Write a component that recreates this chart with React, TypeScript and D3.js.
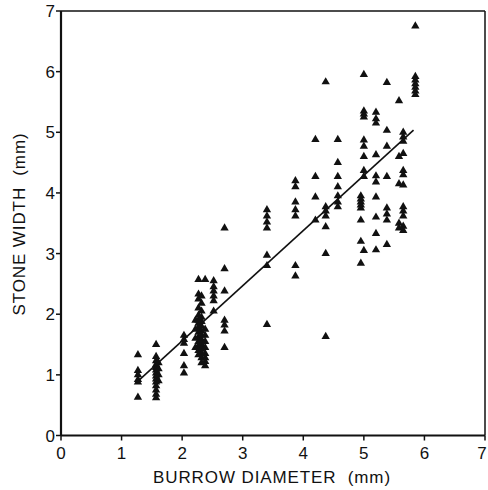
import React from "react";
import * as d3 from "d3";

const xTicks = [0, 1, 2, 3, 4, 5, 6, 7];
const yTicks = [0, 1, 2, 3, 4, 5, 6, 7];

// Burrow diameter (mm) columns with stone widths (mm)
const diameters = [1.27, 1.57, 1.61, 2.03, 2.22, 2.27, 2.32, 2.38, 2.52, 2.7, 3.4, 3.87, 4.2, 4.37, 4.57, 4.95, 5.0, 5.2, 5.38, 5.58, 5.65, 5.85];
const widths: number[][] = [
  [1.33, 1.07, 1.0, 0.92, 0.88, 0.63],
  [1.5, 1.3, 1.23, 1.17, 1.12, 1.08, 1.03, 0.98, 0.93, 0.88, 0.82, 0.75, 0.68, 0.62],
  [1.2, 1.1, 1.0, 0.9],
  [1.65, 1.58, 1.52, 1.35, 1.15, 1.03],
  [1.9, 1.75, 1.6, 1.45],
  [2.57, 2.33, 2.25, 2.1, 1.98, 1.9, 1.85, 1.78, 1.7, 1.62, 1.55, 1.48, 1.4, 1.33],
  [2.3, 2.18, 2.05, 1.95, 1.88, 1.8, 1.72, 1.65, 1.58, 1.5, 1.42, 1.35, 1.28, 1.2],
  [2.57, 1.75, 1.65, 1.55, 1.45, 1.35, 1.28, 1.22, 1.15],
  [2.55, 2.45, 2.38, 2.3, 2.22, 2.05],
  [3.42, 2.75, 2.38, 1.9, 1.82, 1.72, 1.45],
  [3.72, 3.62, 3.52, 3.42, 2.97, 2.8, 1.83],
  [4.2, 4.1, 3.85, 3.72, 3.62, 2.8, 2.63],
  [4.88, 4.27, 3.93, 3.55],
  [5.83, 3.77, 3.7, 3.62, 3.44, 3.0, 1.63],
  [4.88, 4.5, 4.27, 4.1, 3.95, 3.85, 3.77],
  [3.95, 3.9, 3.85, 3.8, 3.75, 3.55, 3.2, 2.84],
  [5.95, 5.35, 5.3, 5.25, 4.87, 4.77, 4.6, 4.37, 4.27, 3.05],
  [5.33, 5.22, 5.15, 4.63, 4.28, 4.18, 3.93, 3.6, 3.33, 3.06],
  [5.82, 5.03, 4.77, 4.27, 3.75, 3.65, 3.55, 3.15],
  [5.52, 4.6, 4.15, 3.5, 3.42],
  [5.0, 4.92, 4.85, 4.65, 4.37, 4.3, 4.13, 3.77, 3.7, 3.62, 3.45, 3.38],
  [6.75, 5.92, 5.86, 5.8, 5.74, 5.68, 5.62],
];

// Regression line: width = intercept + slope * diameter
const fitIntercept = -0.26;
const fitSlope = 0.91;
const fitRange = [1.28, 5.82];

const xTitle = "BURROW DIAMETER  (mm)";
const yTitle = "STONE WIDTH  (mm)";

export default function App() {
  const W = 488, H = 490;
  const x = d3.scaleLinear().domain([0, 7]).range([61, 485]);
  const y = d3.scaleLinear().domain([0, 7]).range([435.5, 11]);
  const tri = d3.symbol().type(d3.symbolTriangle).size(30)() as string;
  const points: { dx: number; wy: number }[] = [];
  diameters.forEach((d, i) => widths[i].forEach((w) => points.push({ dx: d, wy: w })));
  const line = d3.line<number>().x((d) => x(d)).y((d) => y(fitIntercept + fitSlope * d));
  const font = "'Liberation Sans', Arial, Helvetica, sans-serif";
  return (
    <svg width={W} height={H} style={{ position: "absolute", left: 0, top: 0, background: "#fff" }}>
      <rect x={0} y={0} width={W} height={H} fill="#fff" />
      {/* frame */}
      <line x1={x(0)} x2={x(7)} y1={y(7)} y2={y(7)} stroke="#111" strokeWidth={1.5} />
      <line x1={x(7)} x2={x(7)} y1={y(7)} y2={y(0)} stroke="#111" strokeWidth={1.5} />
      <line x1={x(0)} x2={x(0)} y1={y(7)} y2={y(0)} stroke="#111" strokeWidth={2.2} />
      <line x1={x(0)} x2={x(7)} y1={y(0)} y2={y(0)} stroke="#111" strokeWidth={2} />
      {xTicks.map((t) => (
        <g key={"x" + t}>
          <line x1={x(t)} x2={x(t)} y1={y(0)} y2={y(0) + 5} stroke="#111" strokeWidth={1.5} />
          <text x={Math.min(x(t), 482)} y={459} textAnchor="middle" fontSize={17} fontFamily={font} fill="#111">{t}</text>
        </g>
      ))}
      {yTicks.map((t) => (
        <g key={"y" + t}>
          <line x1={x(0) - 5} x2={x(0)} y1={y(t)} y2={y(t)} stroke="#111" strokeWidth={1.5} />
          <text x={55} y={y(t) + 6} textAnchor="end" fontSize={17} fontFamily={font} fill="#111">{t}</text>
        </g>
      ))}
      <path d={line(fitRange) || ""} fill="none" stroke="#111" strokeWidth={1.6} />
      {points.map((p, i) => (
        <path key={i} d={tri} transform={`translate(${x(p.dx)},${y(p.wy)})`} fill="#111" />
      ))}
      <text x={272} y={483} textAnchor="middle" fontSize={17} letterSpacing={0.9} fontFamily={font} fill="#111" style={{ whiteSpace: "pre" }}>{xTitle}</text>
      <text transform="translate(25,224) rotate(-90)" textAnchor="middle" fontSize={17} letterSpacing={0.9} fontFamily={font} fill="#111" style={{ whiteSpace: "pre" }}>{yTitle}</text>
    </svg>
  );
}
